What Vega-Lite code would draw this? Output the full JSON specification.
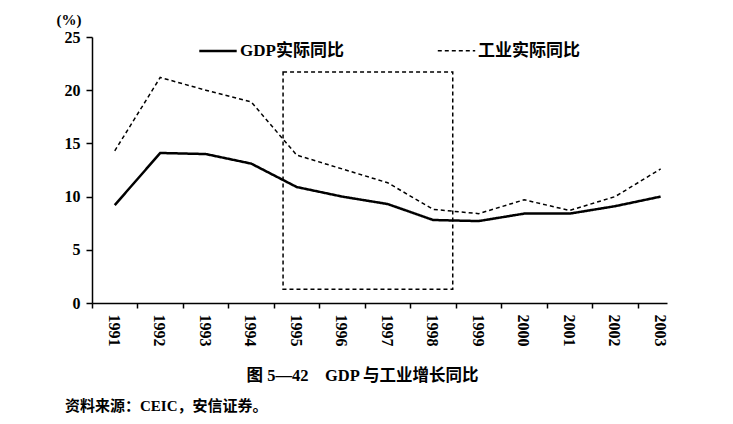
{
  "$schema": "https://vega.github.io/schema/vega-lite/v6.json",
  "autosize": {"type": "none"},
  "width": 575,
  "height": 266,
  "padding": {"left": 92, "top": 37, "right": 66, "bottom": 121},
  "background": "white",
  "config": {
    "view": {"stroke": null},
    "font": "Liberation Serif, Noto Sans CJK SC",
    "axis": {"domainColor": "black", "tickColor": "black", "labelColor": "black", "titleColor": "black", "grid": false, "domainWidth": 1.5, "tickWidth": 1.5}
  },
  "title": {
    "text": "资料来源：CEIC，安信证券。",
    "orient": "bottom",
    "anchor": "start",
    "frame": "group",
    "dx": -27,
    "offset": 15,
    "fontSize": 15,
    "fontWeight": "bold",
    "font": "Liberation Serif, Noto Sans CJK SC",
    "color": "black"
  },
  "layer": [
    {
      "data": {
        "values": [
          {"year": 1991, "series": "GDP实际同比", "value": 9.2},
          {"year": 1992, "series": "GDP实际同比", "value": 14.1},
          {"year": 1993, "series": "GDP实际同比", "value": 14.0},
          {"year": 1994, "series": "GDP实际同比", "value": 13.1},
          {"year": 1995, "series": "GDP实际同比", "value": 10.9},
          {"year": 1996, "series": "GDP实际同比", "value": 10.0},
          {"year": 1997, "series": "GDP实际同比", "value": 9.3},
          {"year": 1998, "series": "GDP实际同比", "value": 7.8},
          {"year": 1999, "series": "GDP实际同比", "value": 7.7},
          {"year": 2000, "series": "GDP实际同比", "value": 8.4},
          {"year": 2001, "series": "GDP实际同比", "value": 8.4},
          {"year": 2002, "series": "GDP实际同比", "value": 9.1},
          {"year": 2003, "series": "GDP实际同比", "value": 10.0},
          {"year": 1991, "series": "工业实际同比", "value": 14.3},
          {"year": 1992, "series": "工业实际同比", "value": 21.2},
          {"year": 1993, "series": "工业实际同比", "value": 20.0},
          {"year": 1994, "series": "工业实际同比", "value": 18.9},
          {"year": 1995, "series": "工业实际同比", "value": 13.9},
          {"year": 1996, "series": "工业实际同比", "value": 12.6},
          {"year": 1997, "series": "工业实际同比", "value": 11.3},
          {"year": 1998, "series": "工业实际同比", "value": 8.8},
          {"year": 1999, "series": "工业实际同比", "value": 8.4},
          {"year": 2000, "series": "工业实际同比", "value": 9.7},
          {"year": 2001, "series": "工业实际同比", "value": 8.7},
          {"year": 2002, "series": "工业实际同比", "value": 10.0},
          {"year": 2003, "series": "工业实际同比", "value": 12.6}
        ]
      },
      "mark": {"type": "line", "color": "black"},
      "encoding": {
        "x": {
          "field": "year",
          "type": "quantitative",
          "scale": {"domain": [1990.5, 2003.14], "nice": false, "zero": false},
          "axis": {
            "values": [1991, 1992, 1993, 1994, 1995, 1996, 1997, 1998, 1999, 2000, 2001, 2002, 2003],
            "format": "d",
            "labelAngle": 90,
            "labelFontSize": 16,
            "labelFontWeight": "bold",
            "labelPadding": 6,
            "tickSize": 5,
            "tickOffset": -22.75,
            "labelOffset": 21.5,
            "labelFlush": false,
            "labelOverlap": false,
            "title": "图 5—42\u3000GDP 与工业增长同比",
            "titleFontSize": 16.5,
            "titleFontWeight": "bold",
            "titleX": 270,
            "titleY": 72,
            "titleBaseline": "middle"
          }
        },
        "y": {
          "field": "value",
          "type": "quantitative",
          "scale": {"domain": [0, 25], "nice": false},
          "axis": {
            "values": [0, 5, 10, 15, 20, 25],
            "labelFontSize": 16,
            "labelFontWeight": "bold",
            "labelPadding": 6,
            "tickSize": 6,
            "title": "(%)",
            "titleAngle": 0,
            "titleFontSize": 15,
            "titleFontWeight": "bold",
            "titleAlign": "left",
            "titleBaseline": "middle",
            "titleX": -36,
            "titleY": -18
          }
        },
        "strokeDash": {
          "field": "series",
          "type": "nominal",
          "scale": {"domain": ["GDP实际同比", "工业实际同比"], "range": [[1, 0], [4, 3]]},
          "legend": {
            "title": null,
            "orient": "none",
            "direction": "horizontal",
            "legendX": 106,
            "legendY": -6,
            "columnPadding": 90,
            "symbolType": "stroke",
            "symbolSize": 1400,
            "symbolStrokeColor": "black",
            "labelFontSize": 17,
            "labelFontWeight": "bold",
            "labelColor": "black",
            "labelOffset": 2,
            "labelLimit": 200
          }
        },
        "strokeWidth": {
          "field": "series",
          "type": "nominal",
          "scale": {"domain": ["GDP实际同比", "工业实际同比"], "range": [2.5, 1.5]},
          "legend": null
        }
      }
    },
    {
      "data": {"values": [{"x1": 1994.7, "x2": 1998.43, "y1": 1.3, "y2": 21.7}]},
      "mark": {"type": "rect", "filled": false, "stroke": "black", "strokeWidth": 1.5, "strokeDash": [4, 3]},
      "encoding": {
        "x": {"field": "x1", "type": "quantitative"},
        "x2": {"field": "x2"},
        "y": {"field": "y1", "type": "quantitative"},
        "y2": {"field": "y2"}
      }
    }
  ]
}
